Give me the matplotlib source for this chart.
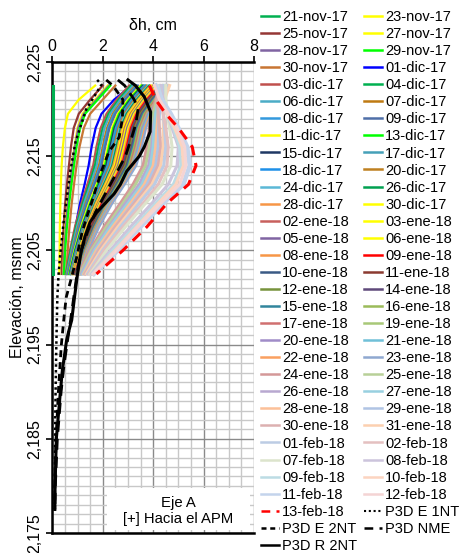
import matplotlib
matplotlib.use("Agg")
import matplotlib.pyplot as plt
from matplotlib.lines import Line2D
from matplotlib.patches import Rectangle
from matplotlib.ticker import MultipleLocator, FuncFormatter

plt.rcParams['font.family'] = ['Liberation Sans', 'DejaVu Sans']

# ---------------- data ----------------
elev = [2222.5, 2221, 2219.5, 2218, 2216, 2214, 2212, 2210, 2207.5, 2205, 2202.5]

early_dates = ['21-nov-17', '23-nov-17', '25-nov-17', '27-nov-17',
               '28-nov-17', '29-nov-17', '30-nov-17', '01-dic-17']
early_colors = ['#00B050', '#FFFF00', '#953735', '#FFFF00',
                '#8064A2', '#00FF00', '#C87533', '#0000FF']
early_x = [
    [0, 0, 0, 0, 0, 0, 0, 0, 0, 0, 0],
    [1.70, 1.05, 0.62, 0.50, 0.42, 0.37, 0.34, 0.32, 0.30, 0.29, 0.28],
    [2.00, 1.50, 1.05, 0.85, 0.74, 0.66, 0.58, 0.51, 0.45, 0.40, 0.37],
    [2.20, 1.70, 1.20, 1.00, 0.88, 0.78, 0.68, 0.60, 0.52, 0.47, 0.43],
    [2.25, 1.75, 1.25, 1.03, 0.90, 0.80, 0.70, 0.62, 0.54, 0.48, 0.44],
    [2.30, 1.80, 1.30, 1.10, 0.96, 0.86, 0.76, 0.67, 0.58, 0.51, 0.46],
    [2.50, 2.00, 1.50, 1.25, 1.08, 0.96, 0.86, 0.77, 0.68, 0.61, 0.56],
    [3.15, 2.45, 1.95, 1.72, 1.56, 1.44, 1.28, 1.10, 0.92, 0.80, 0.70],
]

mass_dates = ['03-dic-17', '04-dic-17', '06-dic-17', '07-dic-17', '08-dic-17',
              '09-dic-17', '11-dic-17', '13-dic-17', '15-dic-17', '17-dic-17',
              '18-dic-17', '20-dic-17', '24-dic-17', '26-dic-17', '28-dic-17',
              '30-dic-17', '02-ene-18', '03-ene-18', '05-ene-18', '06-ene-18',
              '08-ene-18', '09-ene-18', '10-ene-18', '11-ene-18', '12-ene-18',
              '14-ene-18', '15-ene-18', '16-ene-18', '17-ene-18', '19-ene-18',
              '20-ene-18', '21-ene-18', '22-ene-18', '23-ene-18']
mass_colors = ['#C0504D', '#00B050', '#4BACC6', '#BF7A12', '#3399DD',
               '#4F6FA8', '#FFFF00', '#00FF00', '#1F3864', '#45A0B8',
               '#1E90E8', '#BF8020', '#5BB8D6', '#00A050', '#F79646',
               '#FFFF00', '#C8605D', '#FFFF00', '#8064A2', '#FFFF00',
               '#F79646', '#FF0000', '#3A5A85', '#8B3A30', '#77933C',
               '#5F497A', '#31859C', '#9BBB59', '#D07070', '#A8C878',
               '#A08CC8', '#70C0D8', '#FAA060', '#8FA8D0']
mass_x = [
    [3.05, 2.55, 2.15, 1.92, 1.75, 1.62, 1.39, 1.16, 0.90, 0.70, 0.53],
    [3.12, 2.63, 2.23, 2.00, 1.83, 1.69, 1.46, 1.21, 0.94, 0.73, 0.55],
    [3.20, 2.70, 2.30, 2.07, 1.90, 1.76, 1.52, 1.26, 0.98, 0.76, 0.57],
    [3.30, 2.80, 2.40, 2.17, 2.00, 1.85, 1.60, 1.33, 1.03, 0.80, 0.60],
    [3.35, 2.85, 2.45, 2.22, 2.05, 1.90, 1.64, 1.36, 1.06, 0.82, 0.62],
    [3.40, 2.90, 2.50, 2.27, 2.10, 1.95, 1.68, 1.39, 1.09, 0.84, 0.64],
    [3.50, 3.00, 2.60, 2.37, 2.20, 2.04, 1.76, 1.46, 1.14, 0.88, 0.67],
    [3.55, 3.05, 2.65, 2.42, 2.25, 2.09, 1.80, 1.50, 1.17, 0.90, 0.68],
    [3.60, 3.10, 2.70, 2.47, 2.30, 2.14, 1.85, 1.53, 1.19, 0.92, 0.70],
    [3.65, 3.15, 2.75, 2.52, 2.35, 2.19, 1.89, 1.56, 1.22, 0.94, 0.71],
    [3.70, 3.20, 2.80, 2.57, 2.40, 2.23, 1.93, 1.60, 1.25, 0.96, 0.73],
    [3.75, 3.25, 2.85, 2.62, 2.45, 2.28, 1.97, 1.63, 1.27, 0.98, 0.74],
    [3.80, 3.30, 2.90, 2.67, 2.50, 2.33, 2.01, 1.67, 1.30, 1.00, 0.76],
    [3.85, 3.35, 2.95, 2.72, 2.55, 2.38, 2.05, 1.70, 1.33, 1.03, 0.78],
    [3.90, 3.40, 3.00, 2.77, 2.60, 2.42, 2.09, 1.73, 1.35, 1.05, 0.79],
    [3.95, 3.45, 3.05, 2.82, 2.65, 2.47, 2.13, 1.77, 1.38, 1.07, 0.81],
    [4.00, 3.50, 3.10, 2.87, 2.70, 2.52, 2.17, 1.80, 1.40, 1.09, 0.82],
    [4.05, 3.55, 3.15, 2.92, 2.75, 2.57, 2.21, 1.84, 1.43, 1.11, 0.84],
    [4.10, 3.60, 3.20, 2.97, 2.80, 2.61, 2.26, 1.87, 1.46, 1.13, 0.85],
    [4.15, 3.65, 3.25, 3.02, 2.85, 2.66, 2.30, 1.90, 1.48, 1.15, 0.87],
    [4.20, 3.70, 3.30, 3.07, 2.90, 2.71, 2.34, 1.94, 1.51, 1.17, 0.88],
    [4.25, 3.75, 3.35, 3.12, 2.95, 2.76, 2.38, 1.97, 1.54, 1.19, 0.90],
    [4.30, 3.80, 3.40, 3.17, 3.00, 2.80, 2.42, 2.01, 1.56, 1.21, 0.91],
    [4.35, 3.85, 3.45, 3.22, 3.05, 2.85, 2.46, 2.04, 1.59, 1.23, 0.93],
    [4.40, 3.90, 3.50, 3.27, 3.10, 2.90, 2.50, 2.07, 1.62, 1.25, 0.95],
    [4.45, 3.95, 3.55, 3.32, 3.15, 2.95, 2.54, 2.11, 1.64, 1.27, 0.96],
    [4.50, 4.00, 3.60, 3.37, 3.20, 2.99, 2.58, 2.14, 1.67, 1.29, 0.98],
    [4.55, 4.05, 3.65, 3.42, 3.25, 3.04, 2.62, 2.18, 1.70, 1.31, 0.99],
    [4.60, 4.10, 3.70, 3.47, 3.30, 3.09, 2.67, 2.21, 1.72, 1.33, 1.01],
    [4.60, 4.15, 3.75, 3.52, 3.35, 3.14, 2.71, 2.24, 1.75, 1.35, 1.02],
    [4.60, 4.20, 3.80, 3.57, 3.40, 3.18, 2.75, 2.28, 1.78, 1.37, 1.04],
    [4.60, 4.25, 3.85, 3.62, 3.45, 3.23, 2.79, 2.31, 1.80, 1.39, 1.05],
    [4.60, 4.30, 3.90, 3.67, 3.50, 3.28, 2.83, 2.35, 1.83, 1.41, 1.07],
    [4.60, 4.35, 3.95, 3.72, 3.55, 3.33, 2.87, 2.38, 1.86, 1.44, 1.09],
]

late_dates = ['24-ene-18', '25-ene-18', '26-ene-18', '27-ene-18', '28-ene-18',
              '29-ene-18', '30-ene-18', '31-ene-18', '01-feb-18', '02-feb-18',
              '07-feb-18', '08-feb-18', '09-feb-18', '10-feb-18', '11-feb-18',
              '12-feb-18']
late_colors = ['#D49898', '#B8D098', '#B8A8D0', '#98D0E0', '#FCC098',
               '#B0C4E4', '#DCB0B0', '#FCD0B0', '#BCCCE4', '#E4C0C0',
               '#DCE4CC', '#CCC4DC', '#BCDCE4', '#FCD4C0', '#C4D4EC',
               '#F4D4D4']
late_x = [
    [4.30, 4.10, 3.95, 3.85, 3.75, 3.60, 3.20, 2.70, 2.05, 1.50, 1.05],
    [4.40, 4.15, 4.00, 3.92, 3.85, 3.70, 3.30, 2.80, 2.15, 1.55, 1.10],
    [4.50, 4.25, 4.10, 4.00, 3.95, 3.82, 3.45, 2.90, 2.25, 1.62, 1.15],
    [4.45, 4.20, 4.10, 4.05, 4.00, 3.90, 3.55, 3.00, 2.30, 1.68, 1.20],
    [4.60, 4.35, 4.20, 4.15, 4.10, 4.00, 3.65, 3.10, 2.40, 1.75, 1.25],
    [4.55, 4.30, 4.25, 4.22, 4.20, 4.10, 3.75, 3.20, 2.50, 1.82, 1.30],
    [4.20, 4.15, 4.20, 4.25, 4.30, 4.20, 3.85, 3.25, 2.50, 1.85, 1.30],
    [4.65, 4.45, 4.40, 4.40, 4.40, 4.30, 3.95, 3.35, 2.60, 1.92, 1.35],
    [4.40, 4.35, 4.40, 4.45, 4.50, 4.42, 4.05, 3.45, 2.70, 2.00, 1.40],
    [4.30, 4.30, 4.40, 4.50, 4.60, 4.55, 4.20, 3.60, 2.80, 2.05, 1.45],
    [4.50, 4.50, 4.55, 4.65, 4.75, 4.70, 4.35, 3.70, 2.90, 2.15, 1.50],
    [4.30, 4.40, 4.55, 4.75, 5.00, 4.95, 4.60, 3.95, 3.10, 2.30, 1.55],
    [4.20, 4.35, 4.55, 4.80, 5.05, 5.10, 4.80, 4.10, 3.25, 2.40, 1.60],
    [4.15, 4.30, 4.55, 4.85, 5.15, 5.20, 4.90, 4.20, 3.35, 2.50, 1.60],
    [4.10, 4.35, 4.70, 5.00, 5.35, 5.45, 5.20, 4.40, 3.50, 2.60, 1.65],
    [4.05, 4.25, 4.60, 4.95, 5.25, 5.30, 5.05, 4.30, 3.40, 2.55, 1.62],
]

red_date = '13-feb-18'
red_x = [3.85, 4.10, 4.50, 5.00, 5.55, 5.70, 5.40, 4.55, 3.75, 2.80, 1.75]

# Model curves (P3D)
e1nt_elev = [2223.1, 2222.6, 2221.5, 2220, 2218, 2216.5, 2213.5, 2210, 2208, 2205,
             2202.5, 2200, 2195, 2190, 2185, 2180, 2177.5]
e1nt_x = [1.78, 1.95, 1.70, 1.35, 1.10, 0.92, 0.72, 0.55, 0.45, 0.33,
          0.25, 0.20, 0.16, 0.13, 0.11, 0.10, 0.10]
e2nt_elev = [2223.1, 2222.5, 2221, 2219, 2217, 2215.5, 2213.5, 2212, 2210, 2208.5,
             2206.8, 2204.3, 2202.5, 2200, 2197.5, 2195, 2192.5, 2190, 2185, 2180, 2177.5]
e2nt_x = [2.14, 2.40, 2.80, 2.78, 2.65, 2.25, 1.96, 1.78, 1.55, 1.36,
          1.17, 0.97, 0.80, 0.55, 0.45, 0.36, 0.30, 0.24, 0.15, 0.10, 0.10]
nme_elev = [2223.1, 2222.5, 2221, 2220, 2218.5, 2217, 2215, 2213, 2211, 2209,
            2207, 2205, 2202.5, 2200, 2197.5, 2195, 2192.5, 2190, 2185, 2180, 2177.5]
nme_x = [2.60, 2.87, 3.25, 3.40, 3.32, 3.15, 2.90, 2.50, 2.10, 1.70,
         1.40, 1.15, 0.98, 0.85, 0.72, 0.58, 0.45, 0.35, 0.20, 0.12, 0.10]
r2nt_elev = [2223.1, 2222.5, 2221.3, 2219.7, 2217.6, 2216, 2215, 2213.4, 2212, 2211,
             2210, 2209, 2208, 2206.5, 2205, 2202.5, 2200, 2197.6, 2196.5, 2195.5,
             2192.3, 2190, 2185, 2180, 2177.5]
r2nt_x = [3.00, 3.30, 3.65, 3.90, 3.88, 3.65, 3.45, 2.95, 2.70, 2.45,
          2.10, 1.75, 1.50, 1.30, 1.15, 1.00, 0.88, 0.77, 0.66, 0.57,
          0.40, 0.32, 0.16, 0.11, 0.10]

# ---------------- figure ----------------
W, H = 465, 553
fig = plt.figure(figsize=(W / 100, H / 100), dpi=100)
ax = fig.add_axes([52.3 / W, 1 - 533 / H, (254 - 52.3) / W, (533 - 62) / H])

handles = []
labels = []

for d, c, xs in zip(early_dates, early_colors, early_x):
    lw = 2.2 if d == '21-nov-17' else 1.6
    ax.plot(xs if d != '21-nov-17' else [v + 0.04 for v in xs], elev,
            color=c, lw=lw, zorder=3)
    handles.append(Line2D([], [], color=c, lw=1.8))
    labels.append(d)

for d, c, xs in zip(mass_dates, mass_colors, mass_x):
    ax.plot(xs, elev, color=c, lw=1.6, zorder=3)
    handles.append(Line2D([], [], color=c, lw=1.8))
    labels.append(d)

for d, c, xs in zip(late_dates, late_colors, late_x):
    lw = 3.2 if d == '11-feb-18' else 2.2
    ax.plot(xs, elev, color=c, lw=lw, zorder=3)
    handles.append(Line2D([], [], color=c, lw=1.8))
    labels.append(d)

ax.plot(red_x, elev, color='#FF0000', lw=2.2, dashes=(3.5, 2.5), zorder=4)
handles.append(Line2D([], [], color='#FF0000', lw=1.8, dashes=(3.5, 2.5)))
labels.append(red_date)

ax.plot(e1nt_x, e1nt_elev, color='black', lw=1.8, dashes=(1, 1.3), zorder=5)
handles.append(Line2D([], [], color='black', lw=1.5, dashes=(1, 1.3)))
labels.append('P3D E 1NT')

ax.plot(e2nt_x, e2nt_elev, color='black', lw=2.0, dashes=(2.5, 1.8), zorder=5)
handles.append(Line2D([], [], color='black', lw=1.8, dashes=(2.0, 1.5)))
labels.append('P3D E 2NT')

ax.plot(nme_x, nme_elev, color='black', lw=2.0, dashes=(4, 2.5), zorder=5)
handles.append(Line2D([], [], color='black', lw=1.8, dashes=(3.5, 2.5)))
labels.append('P3D NME')

ax.plot(r2nt_x, r2nt_elev, color='black', lw=2.2, zorder=5)
handles.append(Line2D([], [], color='black', lw=1.8))
labels.append('P3D R 2NT')

# axes styling
ax.set_xlim(0, 8)
ax.set_ylim(2175, 2225)
ax.xaxis.set_ticks_position('top')
ax.xaxis.set_label_position('top')
ax.set_xticks([0, 2, 4, 6, 8])
ax.xaxis.set_minor_locator(MultipleLocator(0.5))
ax.set_yticks([2175, 2185, 2195, 2205, 2215, 2225])
ax.yaxis.set_minor_locator(MultipleLocator(1))
ax.yaxis.set_major_formatter(FuncFormatter(lambda v, p: f"{int(round(v)):,}"))
ax.tick_params(axis='x', which='major', labelsize=11.5, length=4, width=1.2,
               direction='out', pad=2)
ax.tick_params(axis='y', which='major', labelsize=11.5, length=4, width=1.2,
               direction='out', pad=3)
ax.tick_params(which='minor', length=0)
for lab in ax.get_yticklabels():
    lab.set_rotation(90)
    lab.set_va('center')

ax.grid(which='minor', color='#C8C8C8', lw=1.0, zorder=0)
ax.grid(which='major', color='#8A8A8A', lw=1.0, zorder=0)
ax.set_axisbelow(True)

for s in ['top', 'left', 'bottom']:
    ax.spines[s].set_linewidth(1.8)
    ax.spines[s].set_color('black')
ax.spines['right'].set_visible(False)

ax.set_xlabel('δh, cm', fontsize=11.5, labelpad=6)
ax.set_ylabel('Elevación, msnm', fontsize=11.5, labelpad=2)

# annotation box
ax.add_patch(Rectangle((2.17, 2175.3), 7.84 - 2.17, 2179.8 - 2175.3,
                       facecolor='white', edgecolor='none', zorder=6))
ax.text(5.01, 2177.35, 'Eje A\n[+] Hacia el APM', ha='center', va='center',
        fontsize=10.7, zorder=7, linespacing=1.15)

# legend (row-major order across 2 columns)
order_h = handles[0::2] + handles[1::2]
order_l = labels[0::2] + labels[1::2]
fig.legend(order_h, order_l, ncol=2, loc='upper left',
           bbox_to_anchor=(261 / W, 1 - 10 / H), frameon=False,
           fontsize=10.5, handlelength=1.25, handletextpad=0.2,
           columnspacing=0.45, labelspacing=0.21, borderpad=0, borderaxespad=0)

fig.savefig('out.png', dpi=100)
